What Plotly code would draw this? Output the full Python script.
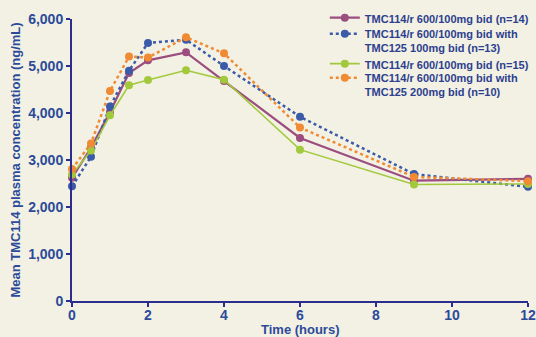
import plotly.graph_objects as go

time_h = [0, 0.5, 1, 1.5, 2, 3, 4, 6, 9, 12]
series_names = [
    "TMC114/r 600/100mg bid (n=14)",
    "TMC114/r 600/100mg bid with<br>TMC125 100mg bid (n=13)",
    "TMC114/r 600/100mg bid (n=15)",
    "TMC114/r 600/100mg bid with<br>TMC125 200mg bid (n=10)",
]
purple_vals = [2620, 3260, 4020, 4850, 5120, 5290, 4680, 3470, 2560, 2600]
blue_vals = [2440, 3070, 4140, 4900, 5490, 5560, 5000, 3920, 2700, 2430]
green_vals = [2690, 3200, 3950, 4590, 4700, 4910, 4710, 3220, 2480, 2490]
orange_vals = [2810, 3350, 4470, 5200, 5180, 5610, 5270, 3690, 2640, 2550]
y_ticks = [0, 1000, 2000, 3000, 4000, 5000, 6000]
x_ticks = [0, 2, 4, 6, 8, 10, 12]
x_title = "Time (hours)"
y_title = "Mean TMC114 plasma concentration (ng/mL)"

colors = ["#9c4d7f", "#3b5aa8", "#a2c93c", "#f08a33"]
dashes = ["solid", "dot", "solid", "dot"]
widths = [2.2, 2.5, 1.6, 2.5]
all_vals = [purple_vals, blue_vals, green_vals, orange_vals]
legend_ids = ["legend", "legend2", "legend3", "legend4"]
legend_tops = [1.053, 0.996, 0.890, 0.840]

text_color = "#2c4a9a"
axis_color = "#2b2e8c"
bg = "#f2f1e4"
font_family = "Liberation Sans, Arial, sans-serif"

fig = go.Figure()
for name, vals, c, d, w, lg in zip(series_names, all_vals, colors, dashes, widths, legend_ids):
    fig.add_trace(go.Scatter(
        x=time_h, y=vals, name=name, mode="lines+markers",
        line=dict(color=c, dash=d, width=w),
        marker=dict(color=c, size=8),
        cliponaxis=False, legend=lg, showlegend=True,
    ))

legend_style = dict(
    x=0.5544, xanchor="left", yanchor="top",
    bgcolor="rgba(0,0,0,0)", valign="top",
    font=dict(size=11, color="#2d3f8f", family=font_family, weight="bold"),
    tracegroupgap=0, itemwidth=30,
)
legend_layout = {lg: dict(legend_style, y=yt) for lg, yt in zip(legend_ids, legend_tops)}

fig.update_layout(
    width=536, height=337,
    margin=dict(l=72, r=8, t=19, b=36, autoexpand=False),
    paper_bgcolor=bg, plot_bgcolor=bg,
    font=dict(family=font_family, color=text_color),
    showlegend=True,
    xaxis=dict(
        range=[0, 12], tickvals=x_ticks, showgrid=False, zeroline=False,
        showline=True, linecolor=axis_color, linewidth=2, automargin=False,
        ticks="outside", ticklen=4, tickcolor=axis_color, tickwidth=2,
        ticklabelstandoff=-4,
        tickfont=dict(size=14, weight="bold", color=text_color),
    ),
    yaxis=dict(
        range=[0, 6000], tickvals=y_ticks, tickformat=",", showgrid=False, zeroline=False,
        showline=True, linecolor=axis_color, linewidth=2, automargin=False,
        ticks="outside", ticklen=4, tickcolor=axis_color, tickwidth=2,
        tickfont=dict(size=14, weight="bold", color=text_color),
        title=dict(text=y_title, font=dict(size=13, weight="bold", color=text_color), standoff=5),
    ),
    annotations=[dict(
        text=x_title, xref="paper", yref="paper", x=0.5, y=0,
        xanchor="center", yanchor="bottom", yshift=-37, showarrow=False, borderpad=0,
        font=dict(size=13, weight="bold", color=text_color, family=font_family),
    )],
    **legend_layout,
)

fig.write_html(
    "out.html",
    config={"displayModeBar": False},
    post_script="document.body.style.margin='0';document.body.style.background='#f2f1e4';",
)
